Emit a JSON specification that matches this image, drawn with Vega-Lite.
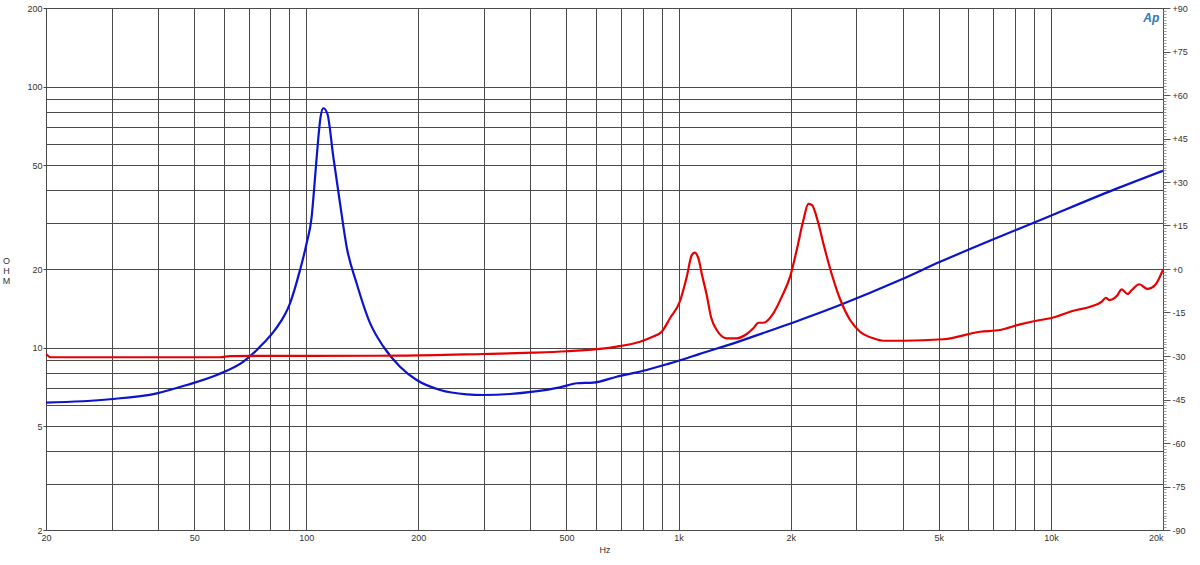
{
  "$schema": "https://vega.github.io/schema/vega-lite/v6.json",
  "width": 1117,
  "height": 522,
  "autosize": "none",
  "padding": {"left": 46, "top": 8, "right": 37, "bottom": 35},
  "background": "white",
  "config": {
    "view": {"stroke": "#444444", "strokeWidth": 1},
    "font": "Liberation Sans",
    "axis": {"labelFont": "Liberation Sans", "titleFont": "Liberation Sans", "labelFontSize": 9, "labelColor": "#333333", "titleFontSize": 9, "titleFontWeight": "normal", "titleColor": "#333333", "domain": false, "labelOverlap": false, "labelFlush": false}
  },
  "datasets": {
    "curves": [
      {"freq": 20, "ohm": 6.15, "series": "woofer"},
      {"freq": 29.7, "ohm": 6.34, "series": "woofer"},
      {"freq": 39.7, "ohm": 6.68, "series": "woofer"},
      {"freq": 47.8, "ohm": 7.19, "series": "woofer"},
      {"freq": 57.5, "ohm": 7.85, "series": "woofer"},
      {"freq": 67.8, "ohm": 8.83, "series": "woofer"},
      {"freq": 76.7, "ohm": 10.38, "series": "woofer"},
      {"freq": 82.4, "ohm": 11.68, "series": "woofer"},
      {"freq": 90.5, "ohm": 14.8, "series": "woofer"},
      {"freq": 96.2, "ohm": 19.8, "series": "woofer"},
      {"freq": 100.3, "ohm": 25.2, "series": "woofer"},
      {"freq": 103.4, "ohm": 31.7, "series": "woofer"},
      {"freq": 105.1, "ohm": 41.3, "series": "woofer"},
      {"freq": 106.7, "ohm": 53.9, "series": "woofer"},
      {"freq": 109.3, "ohm": 76.7, "series": "woofer"},
      {"freq": 111.1, "ohm": 82.6, "series": "woofer"},
      {"freq": 113.9, "ohm": 79.0, "series": "woofer"},
      {"freq": 118.2, "ohm": 53.9, "series": "woofer"},
      {"freq": 123.2, "ohm": 35.8, "series": "woofer"},
      {"freq": 128.4, "ohm": 24.3, "series": "woofer"},
      {"freq": 136.6, "ohm": 17.6, "series": "woofer"},
      {"freq": 148.4, "ohm": 12.4, "series": "woofer"},
      {"freq": 161, "ohm": 10.1, "series": "woofer"},
      {"freq": 178.6, "ohm": 8.45, "series": "woofer"},
      {"freq": 198, "ohm": 7.51, "series": "woofer"},
      {"freq": 228.8, "ohm": 6.88, "series": "woofer"},
      {"freq": 269.8, "ohm": 6.62, "series": "woofer"},
      {"freq": 299, "ohm": 6.58, "series": "woofer"},
      {"freq": 352.6, "ohm": 6.64, "series": "woofer"},
      {"freq": 407, "ohm": 6.78, "series": "woofer"},
      {"freq": 480, "ohm": 7.04, "series": "woofer"},
      {"freq": 533, "ohm": 7.30, "series": "woofer"},
      {"freq": 590, "ohm": 7.34, "series": "woofer"},
      {"freq": 682, "ohm": 7.73, "series": "woofer"},
      {"freq": 804, "ohm": 8.15, "series": "woofer"},
      {"freq": 929, "ohm": 8.63, "series": "woofer"},
      {"freq": 1052, "ohm": 9.10, "series": "woofer"},
      {"freq": 1130, "ohm": 9.42, "series": "woofer"},
      {"freq": 1404, "ohm": 10.38, "series": "woofer"},
      {"freq": 1726, "ohm": 11.5, "series": "woofer"},
      {"freq": 2120, "ohm": 12.75, "series": "woofer"},
      {"freq": 2714, "ohm": 14.56, "series": "woofer"},
      {"freq": 3934, "ohm": 18.15, "series": "woofer"},
      {"freq": 5040, "ohm": 21.3, "series": "woofer"},
      {"freq": 7006, "ohm": 26.0, "series": "woofer"},
      {"freq": 9162, "ohm": 30.4, "series": "woofer"},
      {"freq": 14720, "ohm": 40.2, "series": "woofer"},
      {"freq": 20000, "ohm": 47.6, "series": "woofer"},
      {"freq": 20, "ohm": 9.45, "series": "tweeter"},
      {"freq": 20.6, "ohm": 9.18, "series": "tweeter"},
      {"freq": 58.7, "ohm": 9.18, "series": "tweeter"},
      {"freq": 62.4, "ohm": 9.28, "series": "tweeter"},
      {"freq": 178.6, "ohm": 9.31, "series": "tweeter"},
      {"freq": 299, "ohm": 9.45, "series": "tweeter"},
      {"freq": 407, "ohm": 9.56, "series": "tweeter"},
      {"freq": 501, "ohm": 9.68, "series": "tweeter"},
      {"freq": 615, "ohm": 9.88, "series": "tweeter"},
      {"freq": 682, "ohm": 10.08, "series": "tweeter"},
      {"freq": 788, "ohm": 10.53, "series": "tweeter"},
      {"freq": 849, "ohm": 10.98, "series": "tweeter"},
      {"freq": 901, "ohm": 11.5, "series": "tweeter"},
      {"freq": 949, "ohm": 12.98, "series": "tweeter"},
      {"freq": 1009, "ohm": 15.08, "series": "tweeter"},
      {"freq": 1052, "ohm": 18.69, "series": "tweeter"},
      {"freq": 1085, "ohm": 22.6, "series": "tweeter"},
      {"freq": 1104, "ohm": 23.1, "series": "tweeter"},
      {"freq": 1130, "ohm": 22.0, "series": "tweeter"},
      {"freq": 1156, "ohm": 18.97, "series": "tweeter"},
      {"freq": 1190, "ohm": 15.9, "series": "tweeter"},
      {"freq": 1222, "ohm": 13.1, "series": "tweeter"},
      {"freq": 1266, "ohm": 11.68, "series": "tweeter"},
      {"freq": 1347, "ohm": 10.85, "series": "tweeter"},
      {"freq": 1433, "ohm": 10.85, "series": "tweeter"},
      {"freq": 1524, "ohm": 11.27, "series": "tweeter"},
      {"freq": 1588, "ohm": 11.85, "series": "tweeter"},
      {"freq": 1638, "ohm": 12.45, "series": "tweeter"},
      {"freq": 1690, "ohm": 12.45, "series": "tweeter"},
      {"freq": 1797, "ohm": 13.53, "series": "tweeter"},
      {"freq": 1897, "ohm": 15.76, "series": "tweeter"},
      {"freq": 1993, "ohm": 18.7, "series": "tweeter"},
      {"freq": 2077, "ohm": 23.7, "series": "tweeter"},
      {"freq": 2164, "ohm": 30.8, "series": "tweeter"},
      {"freq": 2231, "ohm": 35.5, "series": "tweeter"},
      {"freq": 2280, "ohm": 35.2, "series": "tweeter"},
      {"freq": 2374, "ohm": 29.9, "series": "tweeter"},
      {"freq": 2458, "ohm": 24.5, "series": "tweeter"},
      {"freq": 2552, "ohm": 20.1, "series": "tweeter"},
      {"freq": 2714, "ohm": 15.35, "series": "tweeter"},
      {"freq": 2888, "ohm": 12.75, "series": "tweeter"},
      {"freq": 3072, "ohm": 11.5, "series": "tweeter"},
      {"freq": 3336, "ohm": 10.85, "series": "tweeter"},
      {"freq": 3548, "ohm": 10.62, "series": "tweeter"},
      {"freq": 4017, "ohm": 10.62, "series": "tweeter"},
      {"freq": 5144, "ohm": 10.76, "series": "tweeter"},
      {"freq": 6454, "ohm": 11.5, "series": "tweeter"},
      {"freq": 7302, "ohm": 11.68, "series": "tweeter"},
      {"freq": 8264, "ohm": 12.27, "series": "tweeter"},
      {"freq": 9354, "ohm": 12.75, "series": "tweeter"},
      {"freq": 10050, "ohm": 12.98, "series": "tweeter"},
      {"freq": 11490, "ohm": 13.84, "series": "tweeter"},
      {"freq": 12750, "ohm": 14.34, "series": "tweeter"},
      {"freq": 13700, "ohm": 14.99, "series": "tweeter"},
      {"freq": 14040, "ohm": 15.52, "series": "tweeter"},
      {"freq": 14360, "ohm": 15.21, "series": "tweeter"},
      {"freq": 15030, "ohm": 15.76, "series": "tweeter"},
      {"freq": 15500, "ohm": 16.72, "series": "tweeter"},
      {"freq": 16050, "ohm": 16.04, "series": "tweeter"},
      {"freq": 16490, "ohm": 16.62, "series": "tweeter"},
      {"freq": 17280, "ohm": 17.48, "series": "tweeter"},
      {"freq": 18160, "ohm": 16.77, "series": "tweeter"},
      {"freq": 19050, "ohm": 17.37, "series": "tweeter"},
      {"freq": 20000, "ohm": 19.9, "series": "tweeter"}
    ]
  },
  "layer": [
    {
      "layer": [
        {
          "data": {"name": "curves"},
          "transform": [{"filter": "datum.series === 'woofer'"}],
          "mark": {"type": "line", "color": "#0a14cc", "strokeWidth": 2.2, "clip": true, "interpolate": "monotone"},
          "encoding": {
            "x": {
              "field": "freq", "type": "quantitative",
              "scale": {"type": "log", "domain": [20, 20000], "nice": false},
              "axis": {
                "title": "Hz",
                "values": [20, 30, 40, 50, 60, 70, 80, 90, 100, 200, 300, 400, 500, 600, 700, 800, 900, 1000, 2000, 3000, 4000, 5000, 6000, 7000, 8000, 9000, 10000, 20000],
                "labelExpr": "indexof([20,50,100,200,500,1000,2000,5000,10000,20000], datum.value) >= 0 ? (datum.value >= 1000 ? (datum.value/1000) + 'k' : '' + datum.value) : ''",
                "labelAlign": {"condition": {"test": "datum.value === 20000", "value": "right"}, "value": "center"},
                "ticks": false,
                "labelPadding": 3,
                "titlePadding": 3,
                "grid": true, "gridColor": "#4a4a4a", "gridWidth": 1, "gridOpacity": 1
              }
            },
            "y": {
              "field": "ohm", "type": "quantitative",
              "scale": {"type": "log", "domain": [2, 200], "nice": false},
              "axis": {
                "title": ["O", "H", "M"],
                "titleAngle": 0, "titleAlign": "center", "titleBaseline": "top",
                "titleX": -40, "titleY": 248, "titleLineHeight": 10,
                "values": [2, 3, 4, 5, 6, 7, 8, 9, 10, 20, 30, 40, 50, 60, 70, 80, 90, 100, 200],
                "labelExpr": "indexof([2,5,10,20,50,100,200], datum.value) >= 0 ? '' + datum.value : ''",
                "tickSize": 3,
                "tickColor": {"condition": {"test": "indexof([2,5,10,20,50,100,200], datum.value) >= 0", "value": "#444444"}, "value": "transparent"},
                "labelPadding": 1,
                "grid": true, "gridColor": "#4a4a4a", "gridWidth": 1, "gridOpacity": 1
              }
            }
          }
        },
        {
          "data": {"name": "curves"},
          "transform": [{"filter": "datum.series === 'tweeter'"}],
          "mark": {"type": "line", "color": "#e80000", "strokeWidth": 2.2, "clip": true, "interpolate": "monotone"},
          "encoding": {
            "x": {"field": "freq", "type": "quantitative"},
            "y": {"field": "ohm", "type": "quantitative"}
          }
        }
      ]
    },
    {
      "data": {"values": [{"phase": -90}, {"phase": 90}]},
      "mark": {"type": "point", "opacity": 0},
      "encoding": {
        "y": {
          "field": "phase", "type": "quantitative",
          "scale": {"domain": [-90, 90], "nice": false, "zero": false},
          "axis": {
            "orient": "right",
            "title": null,
            "grid": false,
            "tickCount": 180,
            "labelExpr": "datum.value % 15 === 0 ? (datum.value > 0 ? '+' + datum.value : (datum.value === 0 ? '+0' : '' + datum.value)) : ''",
            "tickSize": {"condition": {"test": "datum.value % 15 === 0", "value": 7}, "value": 3},
            "tickColor": {"condition": {"test": "datum.value % 15 === 0", "value": "#555555"}, "value": "#9a9a9a"},
            "labelPadding": 2
          }
        }
      }
    },
    {
      "data": {"values": [{"freq": 18600, "phase": 86.5, "logo": "Ap"}]},
      "mark": {"type": "text", "font": "Liberation Sans", "fontStyle": "italic", "fontWeight": "bold", "fontSize": 12, "color": "#2a7ab8"},
      "encoding": {
        "x": {"field": "freq", "type": "quantitative"},
        "y": {"field": "phase", "type": "quantitative", "scale": {"domain": [-90, 90], "nice": false, "zero": false}, "axis": null},
        "text": {"field": "logo"}
      }
    }
  ],
  "resolve": {"scale": {"y": "independent"}}
}
